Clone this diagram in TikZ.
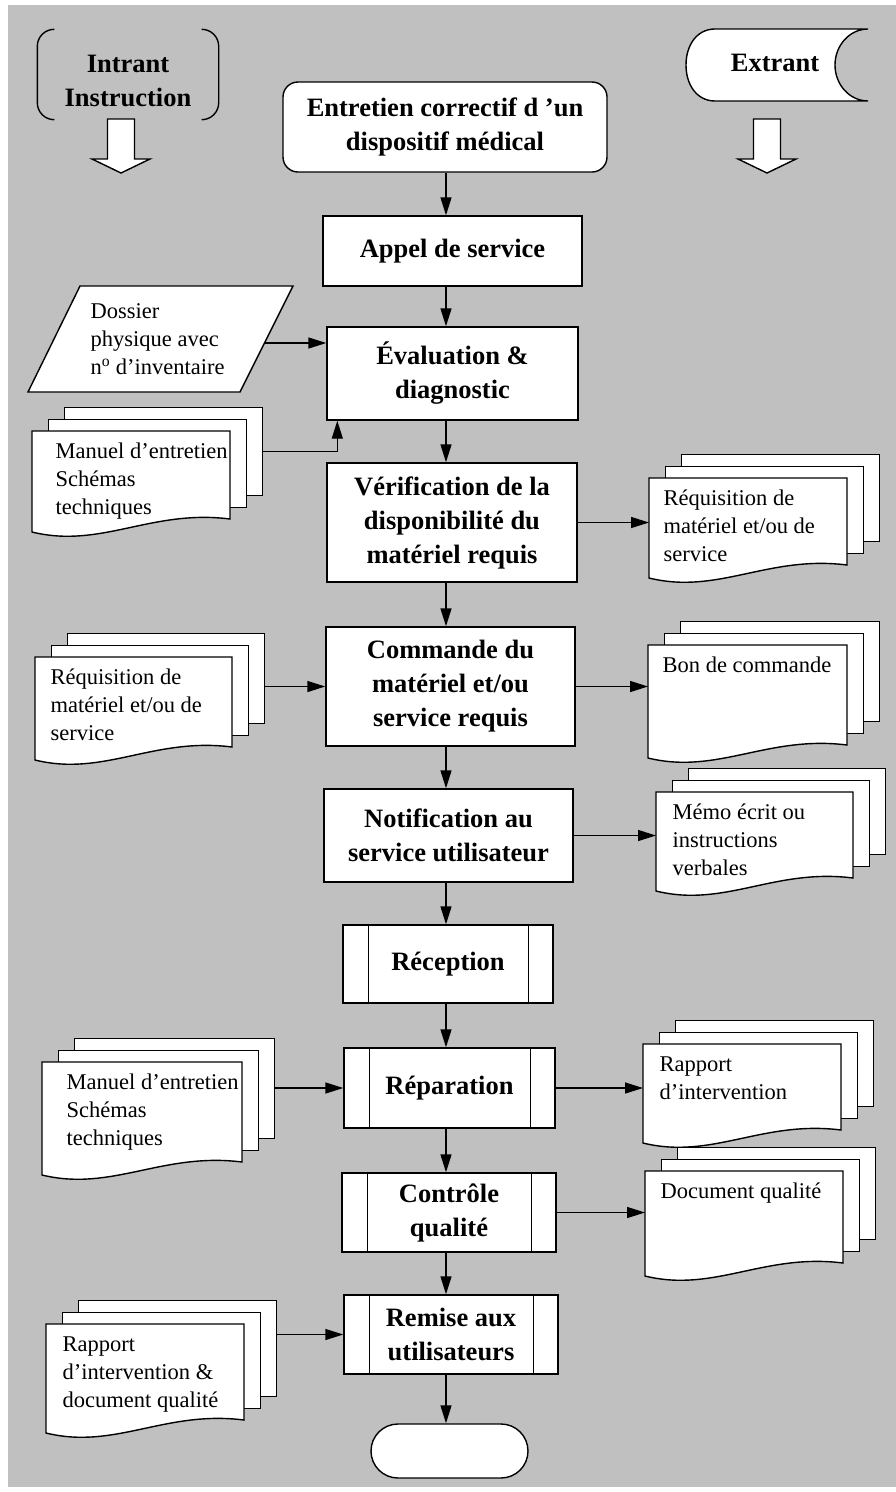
\documentclass[tikz,border=0pt]{standalone}
\usepackage{fontspec}
\setmainfont{Liberation Serif}
\usetikzlibrary{arrows.meta,calc}
\definecolor{bg}{HTML}{C0C0C0}
\newcommand\boxfont{\bfseries\fontsize{26.5}{34}\selectfont}
\newcommand\docfont{\fontsize{22.5}{28}\selectfont}
\tikzset{
  blockarrow/.pic={\draw[fill=white,line width=1.4pt] (-13.5,0) -- ++(27,0) -- ++(0,40) -- ++(15.5,0) -- ++(-29,14) -- ++(-29,-14) -- ++(15.5,0) -- cycle;}
}
% name, front x, front y, width, height, text indent, text
\newcommand\docstack[7]{%
  \node[sheet, minimum width=#4, minimum height=#5] (#1b) at ({#2+32},{#3-24}) {};
  \node[sheet, minimum width=#4, minimum height=#5] (#1m) at ({#2+16},{#3-12}) {};
  \node[anchor=north west, inner sep=0pt, outer sep=0pt, minimum width=#4, minimum height=#5] (#1) at (#2,#3) {};
  \draw[fill=white] (#2,#3) -- ({#2+#4},#3) -- ({#2+#4},{#3+#5})
     .. controls ({#2+0.6*#4},{#3+#5-10}) and ({#2+0.35*#4},{#3+#5+30}) .. (#2,{#3+#5+13}) -- cycle;
  \node[doctext] (#1t) at ({#2+#6},{#3+7}) {\strut #7};
}
\begin{document}
\begin{tikzpicture}[x=1pt,y=-1pt, line width=1.4pt,
  box/.style={draw, fill=white, align=center, font=\boxfont, inner sep=2pt},
  sheet/.style={draw, fill=white, anchor=north west, inner sep=0pt},
  doctext/.style={anchor=north west, align=left, inner sep=0pt, font=\docfont},
  arr/.style={-{Triangle[length=18pt,width=11pt]}, line width=1.4pt},
]
\useasboundingbox (0,0) rectangle (896,1492);
\fill[bg] (8,5) rectangle (896,1487);

% Intrant / Extrant
\node[minimum width=180, minimum height=89, inner sep=0pt] (intrant) at (128,74.5) {};
\draw ([xshift=17pt]intrant.north west) to[out=180,in=90] ([yshift=-17pt]intrant.north west)
   -- ([yshift=17pt]intrant.south west) to[out=270,in=180] ([xshift=17pt]intrant.south west);
\draw ([xshift=-17pt]intrant.north east) to[out=0,in=90] ([yshift=-17pt]intrant.north east)
   -- ([yshift=17pt]intrant.south east) to[out=270,in=0] ([xshift=-17pt]intrant.south east);
\node[font=\boxfont, align=center] (intranttxt) at (128,81) {Intrant\\Instruction};
\pic at (121,119) {blockarrow};

\draw[fill=white] (715,29) -- (868,29) .. controls (850,29) and (835,45) .. (835,65)
  .. controls (835,85) and (850,101) .. (868,101) -- (715,101)
  .. controls (697,101) and (686,85) .. (686,65) .. controls (686,45) and (697,29) .. (715,29) -- cycle;
\node[font=\boxfont] (extrant) at (775,63) {Extrant};
\pic at (767,119) {blockarrow};

% main column
\node[box, rounded corners=15pt, minimum width=324, minimum height=90] (start) at (445,127) {Entretien correctif d ’un\\dispositif médical};
\node[box, minimum width=259, minimum height=70] (appel) at (452.5,251) {Appel de service};
\node[box, minimum width=251, minimum height=93] (eval) at (452.5,373.5) {Évaluation \&\\diagnostic};
\node[box, minimum width=250, minimum height=119] (verif) at (452,522.5) {Vérification de la\\disponibilité du\\matériel requis};
\node[box, minimum width=249, minimum height=119] (cmd) at (450.5,686.5) {Commande du\\matériel et/ou\\service requis};
\node[box, minimum width=249, minimum height=93] (notif) at (448.5,835.5) {Notification au\\service utilisateur};
\node[box, minimum width=210, minimum height=78] (recep) at (448,964) {Réception};
\node[box, minimum width=211, minimum height=80] (repar) at (449.5,1088) {Réparation};
\node[box, minimum width=214, minimum height=79] (ctrl) at (449,1212.5) {Contrôle\\qualité};
\node[box, minimum width=214, minimum height=79] (remise) at (451,1334.5) {Remise aux\\utilisateurs};
\node[draw, fill=white, rounded corners=27pt, minimum width=157, minimum height=54] (fin) at (449.5,1451) {};
\foreach \n in {recep,repar,ctrl,remise}{
  \draw ([xshift=26pt]\n.north west) -- ([xshift=26pt]\n.south west);
  \draw ([xshift=-25pt]\n.north east) -- ([xshift=-25pt]\n.south east);
}

% dossier
\draw[fill=white] (80,286) -- (293,286) -- (240,392) -- (28,392) -- cycle;
\node[doctext] (dossier) at (90,298) {\strut Dossier\\physique avec\\n\textsuperscript{o} d’inventaire};
\coordinate (dosR) at (264.5,343);

% document stacks
\docstack{man1}{32}{431}{198}{88}{23}{Manuel d’entretien\\Schémas\\techniques}
\docstack{req1}{649}{478}{198}{87}{14}{Réquisition de\\matériel et/ou de\\service}
\docstack{req2}{35}{657}{197}{90}{15}{Réquisition de\\matériel et/ou de\\service}
\docstack{bon}{648}{645}{199}{100}{14}{Bon de commande}
\docstack{memo}{656}{792}{197}{86}{16}{Mémo écrit ou\\instructions\\verbales}
\docstack{man2}{42}{1062}{200}{100}{24}{Manuel d’entretien\\Schémas\\techniques}
\docstack{rap1}{643}{1044}{198}{86}{16}{Rapport\\d’intervention}
\docstack{docq}{645}{1171}{198}{92}{15}{Document qualité}
\docstack{rap2}{46}{1324}{198}{96}{16}{Rapport\\d’intervention \&\\document qualité}

% connectors
\coordinate (ax) at (446,0);
\draw[arr] (start.south -| ax) -- (appel.north -| ax);
\draw[arr] (appel.south -| ax) -- (eval.north -| ax);
\draw[arr] (eval.south -| ax) -- (verif.north -| ax);
\draw[arr] (verif.south -| ax) -- (cmd.north -| ax);
\draw[arr] (cmd.south -| ax) -- (notif.north -| ax);
\draw[arr] (notif.south -| ax) -- (recep.north -| ax);
\draw[arr] (recep.south -| ax) -- (repar.north -| ax);
\draw[arr] (repar.south -| ax) -- (ctrl.north -| ax);
\draw[arr] (ctrl.south -| ax) -- (remise.north -| ax);
\draw[arr] (remise.south -| ax) -- (fin.north -| ax);

\draw[arr] (dosR) -- (dosR -| eval.west);
\draw[arr] (man1b.east) -| ([xshift=11pt]eval.south west);
\draw[arr] (verif.east) -- (verif.east -| req1.west);
\draw[arr] (req2b.east |- cmd.west) -- (cmd.west);
\draw[arr] (cmd.east) -- (cmd.east -| bon.west);
\draw[arr] (notif.east) -- (notif.east -| memo.west);
\draw[arr] (man2b.east |- repar.west) -- (repar.west);
\draw[arr] (repar.east) -- (repar.east -| rap1.west);
\draw[arr] (ctrl.east) -- (ctrl.east -| docq.west);
\draw[arr] (rap2b.east |- remise.west) -- (remise.west);
\end{tikzpicture}
\end{document}
